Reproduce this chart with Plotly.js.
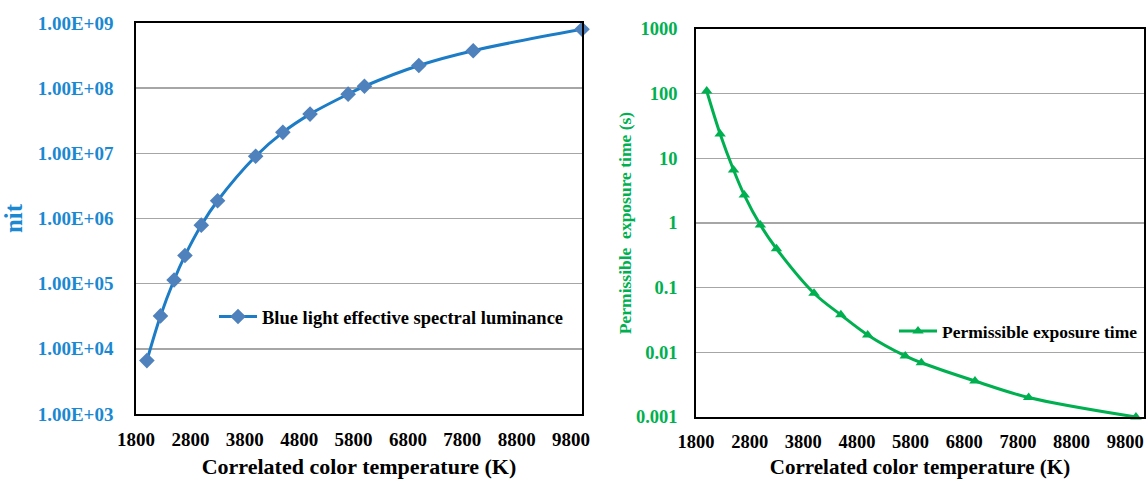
<!DOCTYPE html>
<html>
<head>
<meta charset="utf-8">
<script src="https://cdn.plot.ly/plotly-3.0.1.min.js"></script>
<style>html,body{margin:0;padding:0;background:#fff;}#chart{width:1147px;height:479px;}</style>
</head>
<body>
<div id="chart"></div>
<script>
// Correlated color temperature (K)
var cct = [2000, 2250, 2500, 2700, 3000, 3300, 4000, 4500, 5000, 5700, 6000, 7000, 8000, 10000];
// Blue light effective spectral luminance (nit)
var luminance = [6.6e3, 3.2e4, 1.14e5, 2.7e5, 7.9e5, 1.87e6, 9.0e6, 2.1e7, 4.0e7, 8.1e7, 1.07e8, 2.23e8, 3.76e8, 8.0e8];
// Permissible exposure time (s)
var exposure = [110, 23.8, 6.6, 2.7, 0.93, 0.40, 0.082, 0.038, 0.0186, 0.0088, 0.0069, 0.0036, 0.0020, 0.0010];

var xTicks = [1800, 2800, 3800, 4800, 5800, 6800, 7800, 8800, 9800];
var xTickText = ["1800", "2800", "3800", "4800", "5800", "6800", "7800", "8800", "9800"];
var lumTickVals = [1e3, 1e4, 1e5, 1e6, 1e7, 1e8, 1e9];
var lumTickText = ["1.00E+03", "1.00E+04", "1.00E+05", "1.00E+06", "1.00E+07", "1.00E+08", "1.00E+09"];
var expTickVals = [0.001, 0.01, 0.1, 1, 10, 100, 1000];
var expTickText = ["0.001", "0.01", "0.1", "1", "10", "100", "1000"];

var FONT = "Liberation Serif, Times New Roman, serif";
var BLUE_TXT = "#1b88d2";
var GREEN = "#00b050";

var traces = [
  {
    x: cct, y: luminance, type: "scatter", mode: "lines+markers",
    name: "Blue light effective spectral luminance",
    xaxis: "x", yaxis: "y", legend: "legend",
    line: {color: "#1c7cc6", width: 3, shape: "spline", smoothing: 1},
    marker: {symbol: "diamond", size: 12, color: "#4f81bd"},
    cliponaxis: false
  },
  {
    x: cct, y: exposure, type: "scatter", mode: "lines+markers",
    name: "Permissible exposure time",
    xaxis: "x2", yaxis: "y2", legend: "legend2",
    line: {color: GREEN, width: 3, shape: "spline", smoothing: 1},
    marker: {symbol: "triangle-up", size: 10, color: GREEN},
    cliponaxis: false
  }
];

function xAxis(domain, range, anchor, size, tsize) {
  return {
    domain: domain, range: range, anchor: anchor,
    tickvals: xTicks, ticktext: xTickText, ticks: "", ticklabelstandoff: 7,
    tickfont: {family: FONT, size: tsize, color: "#000", weight: "bold"},
    showgrid: false, zeroline: false,
    showline: true, linecolor: "#000", linewidth: 1.8, mirror: true,
    title: {text: "Correlated color temperature (K)", standoff: 10,
            font: {family: FONT, size: size, color: "#000", weight: "bold"}}
  };
}

var layout = {
  width: 1147, height: 479,
  margin: {l: 0, r: 0, t: 0, b: 0},
  paper_bgcolor: "#fff", plot_bgcolor: "#fff",
  showlegend: true,
  font: {family: FONT, weight: "bold"},
  xaxis: xAxis([136/1147, 582/1147], [1800, 10000], "y", 22, 19),
  yaxis: {
    domain: [(479-414)/479, (479-23)/479], type: "log", range: [3, 9], anchor: "x",
    tickvals: lumTickVals, ticktext: lumTickText, ticks: "", ticklabelstandoff: 17,
    tickfont: {family: FONT, size: 19, color: BLUE_TXT, weight: "bold"},
    showgrid: true, gridcolor: "#a6a6a6", gridwidth: 1.5, zeroline: false,
    showline: true, linecolor: "#000", linewidth: 1.8, mirror: true,
    title: {text: "nit", standoff: 10, font: {family: FONT, size: 25, color: BLUE_TXT, weight: "bold"}}
  },
  xaxis2: xAxis([696/1147, 1144/1147], [1800, 10150], "y2", 21, 18.5),
  yaxis2: {
    domain: [(479-417)/479, (479-29)/479], type: "log", range: [-3, 3], anchor: "x2",
    tickvals: expTickVals, ticktext: expTickText, ticks: "", ticklabelstandoff: 13,
    tickfont: {family: FONT, size: 18.5, color: GREEN, weight: "bold"},
    showgrid: true, gridcolor: "#a6a6a6", gridwidth: 1.5, zeroline: false,
    showline: true, linecolor: "#000", linewidth: 1.8, mirror: true,
    title: {text: "Permissible  exposure time (s)", standoff: 0, font: {family: FONT, size: 17.5, color: GREEN, weight: "bold"}}
  },
  legend: {
    x: 214/1147, y: (479-317)/479, xanchor: "left", yanchor: "middle",
    bgcolor: "rgba(0,0,0,0)", borderwidth: 0, itemwidth: 38,
    font: {family: FONT, size: 18.5, color: "#000", weight: "bold"}
  },
  legend2: {
    x: 894/1147, y: (479-331)/479, xanchor: "left", yanchor: "middle",
    bgcolor: "rgba(0,0,0,0)", borderwidth: 0, itemwidth: 38,
    font: {family: FONT, size: 17.5, color: "#000", weight: "bold"}
  }
};

Plotly.newPlot("chart", traces, layout, {displayModeBar: false, staticPlot: true});
</script>
</body>
</html>
